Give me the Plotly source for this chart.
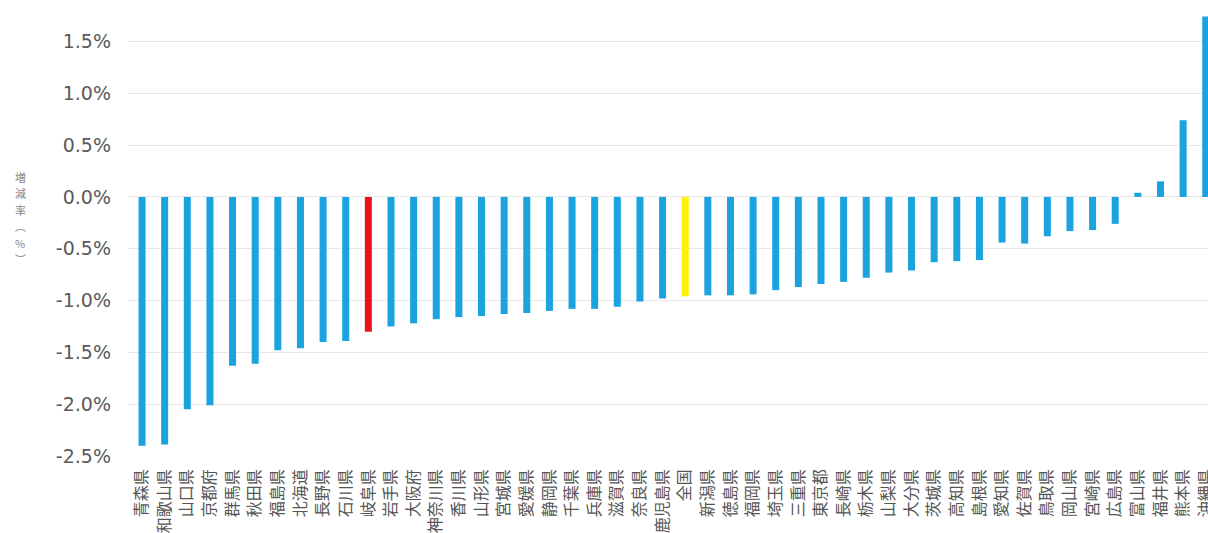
import plotly.graph_objects as go

prefectures = ["青森県", "和歌山県", "山口県", "京都府", "群馬県", "秋田県", "福島県", "北海道",
               "長野県", "石川県", "岐阜県", "岩手県", "大阪府", "神奈川県", "香川県", "山形県",
               "宮城県", "愛媛県", "静岡県", "千葉県", "兵庫県", "滋賀県", "奈良県", "鹿児島県",
               "全国", "新潟県", "徳島県", "福岡県", "埼玉県", "三重県", "東京都", "長崎県",
               "栃木県", "山梨県", "大分県", "茨城県", "高知県", "島根県", "愛知県", "佐賀県",
               "鳥取県", "岡山県", "宮崎県", "広島県", "富山県", "福井県", "熊本県", "沖縄県"]
rates = [-2.40, -2.39, -2.05, -2.01, -1.63, -1.61, -1.48, -1.46,
         -1.40, -1.39, -1.30, -1.25, -1.22, -1.18, -1.16, -1.15,
         -1.13, -1.12, -1.10, -1.08, -1.08, -1.06, -1.01, -0.98,
         -0.96, -0.95, -0.95, -0.94, -0.90, -0.87, -0.84, -0.82,
         -0.78, -0.73, -0.71, -0.63, -0.62, -0.61, -0.44, -0.45,
         -0.38, -0.33, -0.32, -0.26, 0.04, 0.15, 0.74, 1.74]
highlight = {"岐阜県": "#e8141c", "全国": "#fff200"}
y_ticks = [1.5, 1.0, 0.5, 0.0, -0.5, -1.0, -1.5, -2.0, -2.5]
y_tick_labels = ["1.5%", "1.0%", "0.5%", "0.0%", "-0.5%", "-1.0%", "-1.5%", "-2.0%", "-2.5%"]
y_title_chars = ["増", "減", "率", "︵", "%", "︶"]

colors = [highlight.get(p, "#1ba3e0") for p in prefectures]

fig = go.Figure(go.Bar(x=prefectures, y=rates, marker=dict(color=colors, line=dict(width=0)),
                       width=0.31))

cjk_font = "Noto Sans CJK JP"
W, H = 1208, 533
ML, MB = 128, 77
plot_h = H - MB

# vertical (tategaki) axis title: one glyph per row
title_center_px, title_pitch_px = 218, 16.5
n = len(y_title_chars)
annotations = []
for i, ch in enumerate(y_title_chars):
    ypx = title_center_px + (i - (n - 1) / 2) * title_pitch_px
    annotations.append(dict(text=ch, xref="paper", yref="paper",
                            x=(20 - ML) / (W - ML), xanchor="center",
                            y=(plot_h - ypx) / plot_h, yanchor="middle",
                            showarrow=False,
                            font=dict(size=11, color="#888888", family=cjk_font)))

fig.update_layout(
    width=W, height=H,
    margin=dict(l=ML, r=0, t=0, b=MB, autoexpand=False),
    plot_bgcolor="white", paper_bgcolor="white",
    showlegend=False,
    font=dict(family=cjk_font),
    xaxis=dict(range=[-0.62, 47.1], tickangle=-90, showgrid=False, zeroline=False,
               showline=False, ticks="", ticklabelstandoff=9, automargin=False,
               tickfont=dict(size=16, color="#555555", family=cjk_font)),
    yaxis=dict(range=[-2.5, 1.9], tickvals=y_ticks, ticktext=y_tick_labels,
               showgrid=True, gridcolor="#e8e8e8", gridwidth=1,
               zeroline=True, zerolinecolor="#e8e8e8", zerolinewidth=1,
               showline=False, ticks="", ticklabelstandoff=16, automargin=False,
               tickfont=dict(size=19, color="#5a5a5a", family="DejaVu Sans")),
    annotations=annotations,
)

fig.write_html("out.html", config={"displayModeBar": False},
               post_script="document.body.style.margin='0px';document.body.style.overflow='hidden';")
